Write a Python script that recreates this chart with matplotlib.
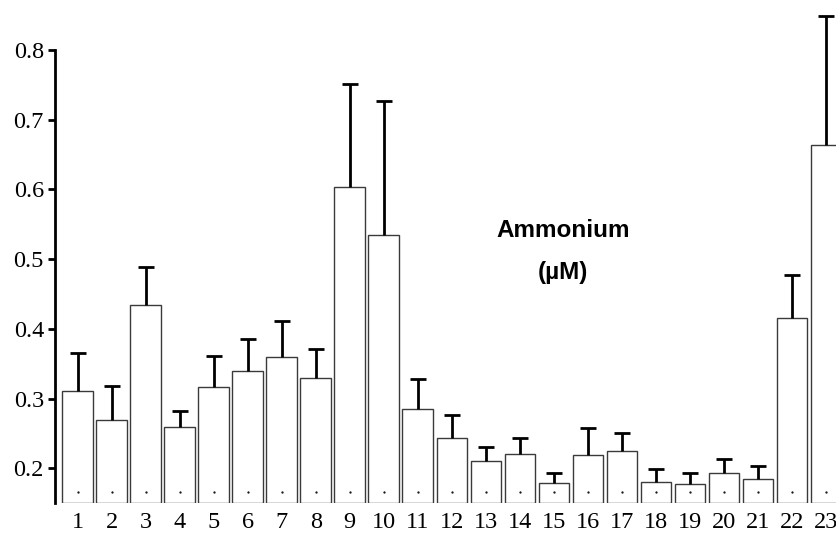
import matplotlib
matplotlib.use("Agg")
import matplotlib.pyplot as plt
import numpy as np

# sampling stations and mean ammonium with upper standard error
stations = list(range(1, 24))
means = [0.311, 0.269, 0.434, 0.260, 0.317, 0.340, 0.360, 0.330, 0.603, 0.535,
         0.285, 0.244, 0.210, 0.220, 0.179, 0.219, 0.225, 0.181, 0.178, 0.193,
         0.185, 0.415, 0.664]
upper = [0.366, 0.318, 0.489, 0.282, 0.361, 0.385, 0.411, 0.371, 0.751, 0.726,
         0.328, 0.276, 0.230, 0.243, 0.194, 0.258, 0.251, 0.199, 0.193, 0.213,
         0.204, 0.477, 0.849]
base = 0.15
yticks = [0.2, 0.3, 0.4, 0.5, 0.6, 0.7, 0.8]

x = np.array(stations)
m = np.array(means)
err = np.array(upper) - m

fig = plt.figure(figsize=(8.37, 5.35), dpi=100)
ax = fig.add_axes([55 / 837, (535 - 503.3) / 535, 1 - 55 / 837, 503.3 / 535])

ax.bar(x, m - base, bottom=base, width=0.9, color="white",
       edgecolor="#3a3a3a", linewidth=1.0, zorder=2)
eb = ax.errorbar(x, m, yerr=[np.zeros_like(err), err], fmt="none",
                 ecolor="black", elinewidth=2, capsize=5.5, capthick=2, zorder=3)
# only the upper cap is wanted
eb[1][0].set_visible(False)
# tiny point marks near the base of each bar
ax.plot(x, np.full(len(x), 0.166), ls="none", marker=".", ms=1.2,
        color="black", zorder=4)

ax.set_xlim(1 - 22.5 / 34.03, 1 + 759.5 / 34.03)
ax.set_ylim(base, 0.8 + 49.9 / 698)

for s in ["top", "right", "bottom"]:
    ax.spines[s].set_visible(False)
ax.spines["left"].set_linewidth(2)
ax.spines["left"].set_bounds(base, 0.8)

ax.set_yticks(yticks)
ax.set_yticklabels([f"{t:.1f}" for t in yticks])
ax.set_xticks(x)
ax.set_xticklabels([str(s) for s in stations])
ax.tick_params(axis="y", length=5, width=2, pad=3)
ax.tick_params(axis="x", length=0, pad=6.5)
for lab in ax.get_xticklabels() + ax.get_yticklabels():
    lab.set_fontfamily("Liberation Serif")
    lab.set_fontsize(17.5)

for txt, ypix in [("Ammonium", 237), ("(\u00b5M)", 279)]:
    fig.text(563 / 837, 1 - ypix / 535, txt, ha="center", va="baseline",
             fontsize=17.5, fontweight="bold", family="Liberation Sans")

fig.savefig("out.png", dpi=100)
